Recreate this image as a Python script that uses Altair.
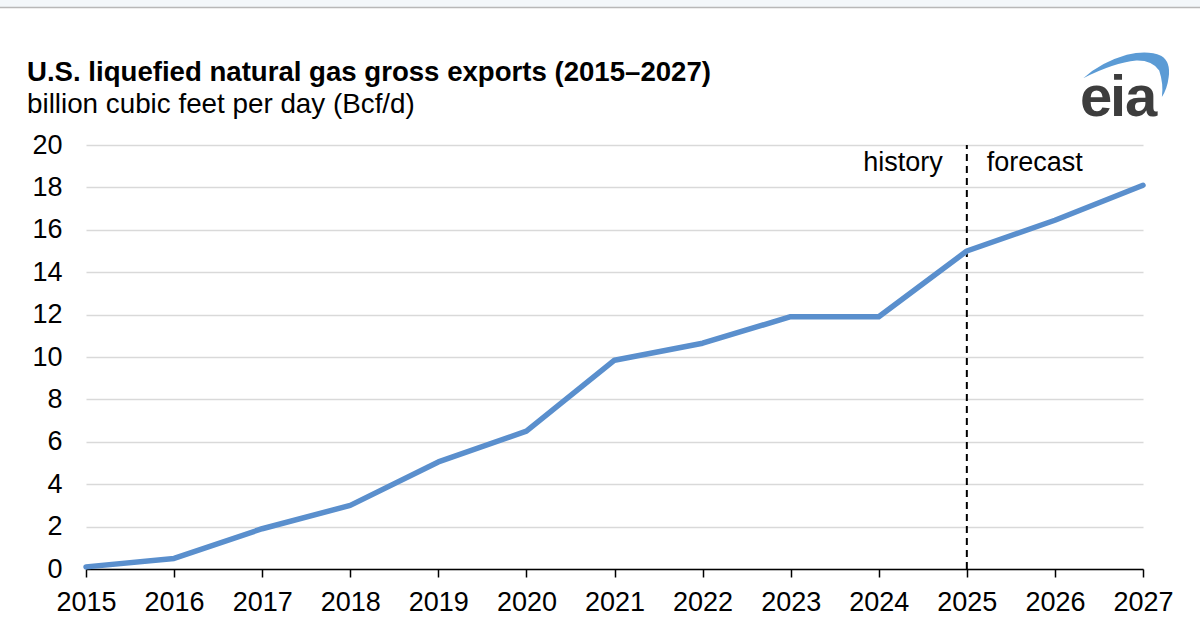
import altair as alt
import pandas as pd

years = [2015, 2016, 2017, 2018, 2019, 2020, 2021, 2022, 2023, 2024, 2025, 2026, 2027]
exports = [0.1, 0.5, 1.9, 3.0, 5.05, 6.5, 9.85, 10.65, 11.9, 11.9, 15.0, 16.45, 18.1]
y_ticks = [0, 2, 4, 6, 8, 10, 12, 14, 16, 18, 20]
split_year = 2025
label_level = 19.15

title_text = "U.S. liquefied natural gas gross exports (2015\u20132027)"
subtitle_text = "billion cubic feet per day (Bcf/d)"
logo_chars = ["e", "i", "a"]

FONT = "Liberation Sans"
W, H = 1057, 424
PAD_L, PAD_T = 86, 145

df = pd.DataFrame({"year": years, "value": exports})
split_df = pd.DataFrame({"year": [split_year], "y0": [0], "y1": [20], "lvl": [label_level]})

x_scale = alt.Scale(domain=[2015, 2027], nice=False, zero=False)
y_scale = alt.Scale(domain=[0, 20], nice=False)

x_axis = alt.Axis(values=years, format="d", title=None, grid=False, gridOpacity=0,
                  labelFontSize=27, labelColor="black", labelFont=FONT,
                  labelFlush=False, labelOverlap=False,
                  domainColor="black", domainWidth=1.5,
                  tickColor="black", tickSize=8, tickWidth=1.5,
                  labelPadding=12)
y_axis = alt.Axis(values=y_ticks, title=None, grid=True,
                  gridColor="#d9d9d9", gridWidth=1.5,
                  domain=False, ticks=False,
                  labelFontSize=27, labelColor="black", labelFont=FONT,
                  labelPadding=24)


def X(field):
    return alt.X(field, scale=x_scale, axis=x_axis)


def Y(field):
    return alt.Y(field, scale=y_scale, axis=y_axis)


line = alt.Chart(df).mark_line(color="#5a8fcd", strokeWidth=5.5,
                               strokeCap="round", strokeJoin="round").encode(
    x=X("year:Q"), y=Y("value:Q"))

rule = alt.Chart(split_df).mark_rule(color="black", strokeWidth=2,
                                     strokeDash=[7, 5]).encode(
    x=X("year:Q"), y=Y("y0:Q"), y2="y1:Q")

hist = alt.Chart(split_df).mark_text(text="history", align="right", baseline="middle",
                                     dx=-24, fontSize=27, font=FONT, color="black").encode(
    x=X("year:Q"), y=Y("lvl:Q"))
fore = alt.Chart(split_df).mark_text(text="forecast", align="left", baseline="middle",
                                     dx=20, fontSize=27, font=FONT, color="black").encode(
    x=X("year:Q"), y=Y("lvl:Q"))

anno = pd.DataFrame({"k": [0]})
title = alt.Chart(anno).mark_text(text=title_text, align="left", baseline="alphabetic",
                                  fontSize=27.6, fontWeight="bold", font=FONT,
                                  color="black").encode(
    x=alt.value(27 - PAD_L), y=alt.value(81 - PAD_T))
subtitle = alt.Chart(anno).mark_text(text=subtitle_text, align="left", baseline="alphabetic",
                                     fontSize=27.8, font=FONT, color="black").encode(
    x=alt.value(27 - PAD_L), y=alt.value(113 - PAD_T))

# top border strip
strip = alt.Chart(anno).mark_rect(color="#f3f7fa").encode(
    x=alt.value(-PAD_L), x2=alt.value(1200 - PAD_L),
    y=alt.value(-PAD_T), y2=alt.value(7 - PAD_T))
topline = alt.Chart(anno).mark_rule(color="#b8b8b8", strokeWidth=1.5).encode(
    x=alt.value(-PAD_L), x2=alt.value(1200 - PAD_L), y=alt.value(7.5 - PAD_T))

# eia logo
swoosh_path = ("M -0.927 0.073 Q -0.55 -0.28 0.04 -0.45 Q 0.5 -0.56 0.8 -0.43 "
               "Q 1.02 -0.3 0.97 0.05 Q 0.94 0.3 0.82 0.49 "
               "Q 0.86 0.2 0.76 -0.1 Q 0.6 -0.33 0.25 -0.32 "
               "Q -0.25 -0.27 -0.927 0.073 Z")
swoosh = alt.Chart(anno).mark_point(shape=swoosh_path, filled=True, size=8100,
                                    color="#5b9bd5", opacity=1, strokeWidth=0).encode(
    x=alt.value(1125 - PAD_L), y=alt.value(75 - PAD_T))

logo_x = [1096, 1118, 1141]
logo_layers = [
    alt.Chart(anno).mark_text(text=ch, align="center", baseline="alphabetic",
                              fontSize=58, fontWeight="bold", font=FONT,
                              color="#3d3d3d").encode(
        x=alt.value(cx - PAD_L), y=alt.value(116 - PAD_T))
    for ch, cx in zip(logo_chars, logo_x)
]

chart = alt.layer(strip, topline, title, subtitle, rule, line, hist, fore,
                  swoosh, *logo_layers).properties(
    width=W, height=H,
    padding={"left": PAD_L, "top": PAD_T, "right": 1200 - PAD_L - W, "bottom": 644 - PAD_T - H},
    autosize=alt.AutoSizeParams(type="none"),
    background="white",
).configure(font=FONT).configure_view(stroke=None).configure_axisX(grid=False, gridOpacity=0)

chart.save("out.html", embed_options={"renderer": "svg", "actions": False})
